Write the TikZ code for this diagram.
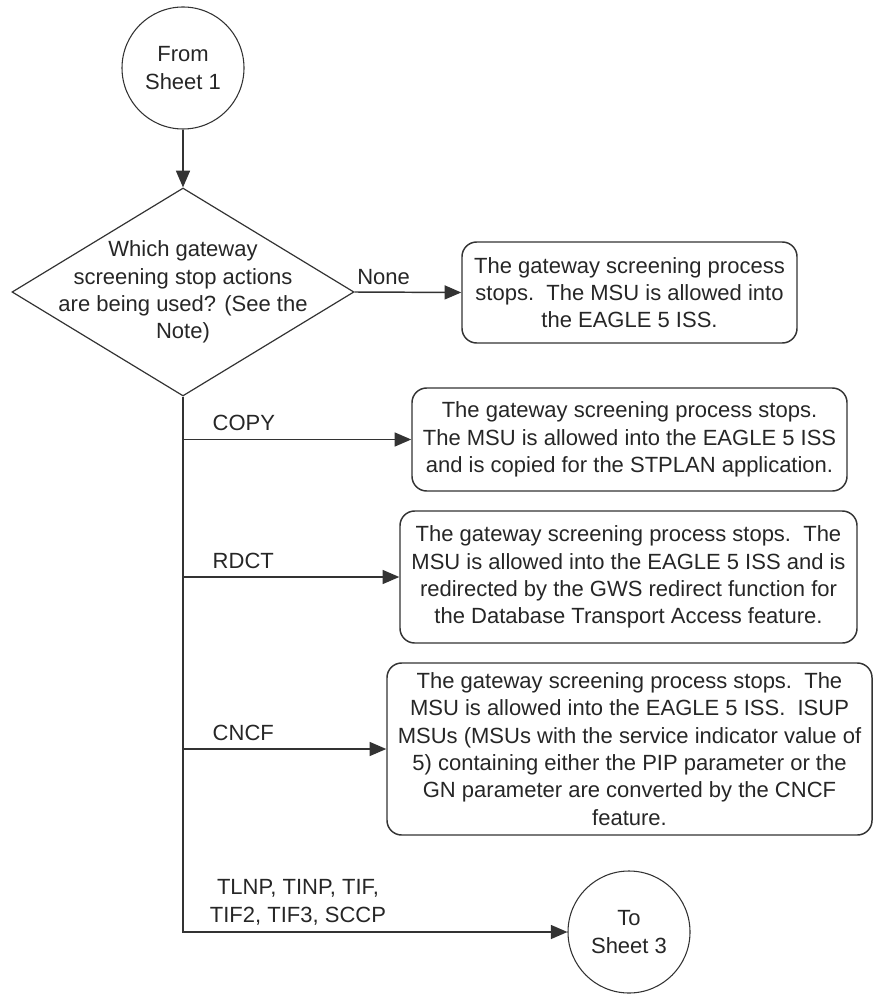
\documentclass[tikz,border=0pt]{standalone}
\usepackage{fontspec}
\setmainfont{Liberation Sans}
\usetikzlibrary{arrows.meta,shapes.geometric}

\begin{document}
\begin{tikzpicture}[x=0.75pt,y=-0.75pt,>={Triangle[length=12.5pt,width=10.5pt]},
  every node/.style={text=black!85,font=\fontsize{16.5}{20.5}\selectfont},
  line/.style={draw=black!80,line width=1.1pt},
  term/.style={circle,draw=black!80,line width=0.8pt,minimum size=91.5pt,inner sep=0pt,align=center},
  decide/.style={diamond,draw=black!80,line width=0.9pt,minimum width=256.5pt,minimum height=156pt,inner sep=0pt},
  stopbox/.style={rectangle,rounded corners=11pt,draw=black!80,line width=1.1pt,inner sep=2pt,align=center},
  lbl/.style={anchor=south west,inner sep=0pt,align=center}]
\useasboundingbox (0,0) rectangle (873,994);
% start and decision
\node[term] (sheetone) at (183,68) {From\\Sheet 1};
\node[decide] (ask) at (183,292) {};
\node[align=center] (asktext) at (ask) {Which gateway\\screening stop actions\\are being used? (See the\\Note)};
% stop actions
\node[stopbox,minimum width=251.25pt,minimum height=75.75pt] (stopnone) at (629.5,292.5)
  {The gateway screening process\\stops.\ \ The MSU is allowed into\\the EAGLE 5 ISS.};
\node[stopbox,minimum width=326.25pt,minimum height=77.25pt] (stopcopy) at (629.5,439.5)
  {The gateway screening process stops.\\The MSU is allowed into the EAGLE 5 ISS\\and is copied for the STPLAN application.};
\node[stopbox,minimum width=342.75pt,minimum height=99pt] (stoprdct) at (628.5,577)
  {The gateway screening process stops.\ \ The\\MSU is allowed into the EAGLE 5 ISS and is\\redirected by the GWS redirect function for\\the Database Transport Access feature.};
\node[stopbox,minimum width=363.75pt,minimum height=129pt] (stopcncf) at (629.5,749)
  {The gateway screening process stops.\ \ The\\MSU is allowed into the EAGLE 5 ISS.\ \ ISUP\\MSUs (MSUs with the service indicator value of\\5) containing either the PIP parameter or the\\GN parameter are converted by the CNCF\\feature.};
\node[term] (sheetthree) at (629,932) {To\\Sheet 3};
% connectors
\draw[line,->] (sheetone) -- (ask);
\draw[line,->] (ask.east) -- node[lbl,pos=0,xshift=1.5pt,yshift=5pt] {None} (stopnone.west);
\draw[line,->] (ask.south) |- (sheetthree.west);
\node[lbl,xshift=20pt,yshift=5pt] (tlnp) at (ask.south |- sheetthree.west) {TLNP, TINP, TIF,\\TIF2, TIF3, SCCP};
\draw[line,->] (ask.south |- stopcopy.west) -- node[lbl,pos=0,xshift=21.75pt,yshift=6pt] {COPY} (stopcopy.west);
\draw[line,->] (ask.south |- stoprdct.west) -- node[lbl,pos=0,xshift=21.75pt,yshift=6pt] {RDCT} (stoprdct.west);
\draw[line,->] (ask.south |- stopcncf.west) -- node[lbl,pos=0,xshift=21.75pt,yshift=6pt] {CNCF} (stopcncf.west);
\end{tikzpicture}
\end{document}
